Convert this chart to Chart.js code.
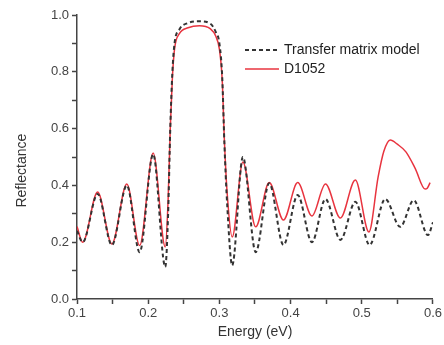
<!DOCTYPE html>
<html>
  <head>
    <meta charset="UTF-8">
    <title>Reflectance</title>
    <script src="https://cdn.jsdelivr.net/npm/chart.js"></script>
    <style>
      body { margin: 0; background: #fff; }
      #wrap { position: relative; width: 444px; height: 345px; }
      .legend { position: absolute; left: 245px; font: 14px "Liberation Sans", Arial, sans-serif; color: #222; }
      .legend div { height: 19px; line-height: 19px; white-space: nowrap; }
      .legend svg { vertical-align: middle; margin-right: 5px; }
    </style>
  </head>
  <body>
    <div id="wrap">
      <canvas id="chart" width="444" height="345"></canvas>
      <div class="legend" style="top: 40px;">
        <div><svg width="34" height="4"><line x1="0" y1="2" x2="34" y2="2" stroke="#333" stroke-width="2" stroke-dasharray="4,3"/></svg>Transfer matrix model</div>
        <div><svg width="34" height="4"><line x1="0" y1="2" x2="34" y2="2" stroke="#e8343f" stroke-width="1.5"/></svg>D1052</div>
      </div>
    </div>

    <script>
      // measured spectrum (D1052)
      const energyMeas = [0.100, 0.108, 0.129, 0.149, 0.170, 0.188, 0.207, 0.224, 0.228, 0.231, 0.234, 0.237, 0.244, 0.256, 0.272, 0.287, 0.295, 0.300, 0.304, 0.307, 0.311, 0.318, 0.333, 0.351, 0.370, 0.390, 0.410, 0.430, 0.449, 0.470, 0.491, 0.510, 0.523, 0.531, 0.540, 0.550, 0.562, 0.575, 0.589, 0.592, 0.596];
      const reflMeas = [0.255, 0.200, 0.377, 0.194, 0.405, 0.188, 0.514, 0.183, 0.35, 0.60, 0.78, 0.88, 0.935, 0.955, 0.962, 0.952, 0.925, 0.88, 0.77, 0.56, 0.37, 0.218, 0.482, 0.254, 0.410, 0.278, 0.410, 0.292, 0.405, 0.285, 0.419, 0.236, 0.43, 0.52, 0.560, 0.545, 0.518, 0.46, 0.387, 0.39, 0.41];

      // transfer matrix model
      const energyModel = [0.100, 0.108, 0.129, 0.149, 0.170, 0.188, 0.207, 0.224, 0.228, 0.231, 0.234, 0.237, 0.244, 0.256, 0.272, 0.287, 0.295, 0.300, 0.304, 0.307, 0.311, 0.318, 0.333, 0.351, 0.370, 0.390, 0.410, 0.430, 0.449, 0.470, 0.491, 0.511, 0.533, 0.554, 0.573, 0.593, 0.600];
      const reflModel = [0.24, 0.20, 0.370, 0.190, 0.400, 0.165, 0.510, 0.113, 0.30, 0.60, 0.80, 0.90, 0.95, 0.972, 0.978, 0.970, 0.94, 0.90, 0.78, 0.55, 0.33, 0.118, 0.500, 0.165, 0.408, 0.190, 0.366, 0.200, 0.352, 0.208, 0.342, 0.190, 0.352, 0.254, 0.348, 0.225, 0.27];

      const xTicks = [0.1, 0.2, 0.3, 0.4, 0.5, 0.6];
      const yTicks = [0.0, 0.2, 0.4, 0.6, 0.8, 1.0];

      const toPoints = (xs, ys) => xs.map((x, i) => ({ x: x, y: ys[i] }));
      const isMajor = (v, list) => list.some(t => Math.abs(t - v) < 1e-6);

      const font = { family: '"Liberation Sans", Arial, sans-serif', size: 13 };

      new Chart(document.getElementById('chart').getContext('2d'), {
        type: 'line',
        data: {
          datasets: [
            {
              label: 'Transfer matrix model',
              data: toPoints(energyModel, reflModel),
              borderColor: '#333',
              borderWidth: 2,
              borderDash: [4, 3],
              pointRadius: 0,
              cubicInterpolationMode: 'monotone'
            },
            {
              label: 'D1052',
              data: toPoints(energyMeas, reflMeas),
              borderColor: '#e8343f',
              borderWidth: 1.5,
              pointRadius: 0,
              cubicInterpolationMode: 'monotone'
            }
          ]
        },
        options: {
          responsive: false,
          animation: false,
          layout: { padding: { top: 15, right: 7 } },
          plugins: { legend: { display: false }, tooltip: { enabled: false } },
          scales: {
            x: {
              type: 'linear',
              min: 0.1,
              max: 0.6,
              border: { color: '#444', width: 1.5 },
              grid: { drawOnChartArea: false, tickLength: 5, tickColor: '#444', tickWidth: 1.5 },
              ticks: {
                stepSize: 0.05,
                color: '#444',
                font: font,
                padding: 2,
                maxRotation: 0,
                autoSkip: false,
                callback: v => isMajor(v, xTicks) ? v.toFixed(1) : ''
              },
              title: { display: true, text: 'Energy (eV)', color: '#333', font: { family: font.family, size: 14 }, padding: { top: 2 } },
              afterFit: s => { s.height = 46; }
            },
            y: {
              min: 0,
              max: 1.0,
              border: { color: '#444', width: 1.5 },
              grid: { drawOnChartArea: false, tickLength: 5, tickColor: '#444', tickWidth: 1.5 },
              ticks: {
                stepSize: 0.1,
                color: '#444',
                font: font,
                padding: 3,
                autoSkip: false,
                callback: v => isMajor(v, yTicks) ? v.toFixed(1) : ''
              },
              // trailing spaces nudge the rotated label down to where the original sits
              title: { display: true, text: 'Reflectance       ', color: '#333', font: { family: font.family, size: 14 }, padding: { top: 14, bottom: 0 } },
              afterFit: s => { s.width = 77; }
            }
          }
        }
      });
    </script>
  </body>
</html>
